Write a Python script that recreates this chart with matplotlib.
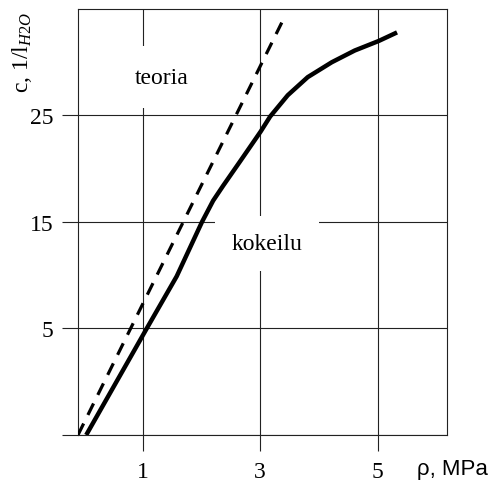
import matplotlib.pyplot as plt

plt.rcParams['font.family'] = 'Liberation Serif'
plt.rcParams['mathtext.fontset'] = 'custom'
plt.rcParams['mathtext.rm'] = 'Liberation Serif'
plt.rcParams['mathtext.it'] = 'Liberation Serif:italic'

# theory line (dashed), pressure MPa vs c
teoria_p = [-0.1, 3.42]
teoria_c = [-5.0, 34.3]

# experiment curve (solid)
kokeilu_p = [0.04, 1.07, 1.58, 2.01, 2.2, 2.37, 2.66, 3.01, 3.17, 3.47, 3.81, 4.22, 4.61, 5.02, 5.33]
kokeilu_c = [-5.0, 5.0, 9.9, 15.0, 17.0, 18.4, 20.7, 23.5, 24.9, 26.9, 28.6, 30.0, 31.1, 32.0, 32.8]

x_ticks = [1, 3, 5]
y_ticks = [-5, 5, 15, 25]
y_labels = ['', '5', '15', '25']

fig = plt.figure(figsize=(4.92, 4.89), dpi=100)
ax = fig.add_axes([0.1585, 0.1084, 0.75, 0.8712])

ax.plot(teoria_p, teoria_c, color='black', lw=2.3, ls=(0, (4, 3)), zorder=3)
ax.plot(kokeilu_p, kokeilu_c, color='black', lw=3.2, solid_capstyle='butt',
        solid_joinstyle='round', zorder=3)

ax.set_xlim(-0.1, 6.18)
ax.set_ylim(-5, 35)
ax.set_xticks(x_ticks)
ax.set_yticks(y_ticks)
ax.set_yticklabels(y_labels)
ax.grid(True, color='#222222', lw=0.8)
for s in ax.spines.values():
    s.set_linewidth(0.8)
    s.set_color('#222222')
ax.tick_params(direction='out', length=11.5, width=0.8, color='#222222', labelsize=17)
ax.tick_params(axis='y', pad=6)
ax.tick_params(axis='x', pad=7)

# labels with white boxes that hide the grid
ax.text(1.33, 28.6, 'teoria', fontsize=17, ha='center', va='center', zorder=4,
        bbox=dict(facecolor='white', edgecolor='none', pad=15))
ax.text(3.12, 13.0, 'kokeilu', fontsize=17, ha='center', va='center', zorder=4,
        bbox=dict(facecolor='white', edgecolor='none', pad=12))

fig.text(22 / 492, 1 - 52 / 489, r'c, 1/l$_{\mathit{H2O}}$', rotation=90,
         ha='center', va='center', fontsize=17)
fig.text(452 / 492, 1 - 470 / 489, 'ρ, MPa', family='Liberation Sans',
         ha='center', va='center', fontsize=16)

fig.savefig('out.png', dpi=100)
